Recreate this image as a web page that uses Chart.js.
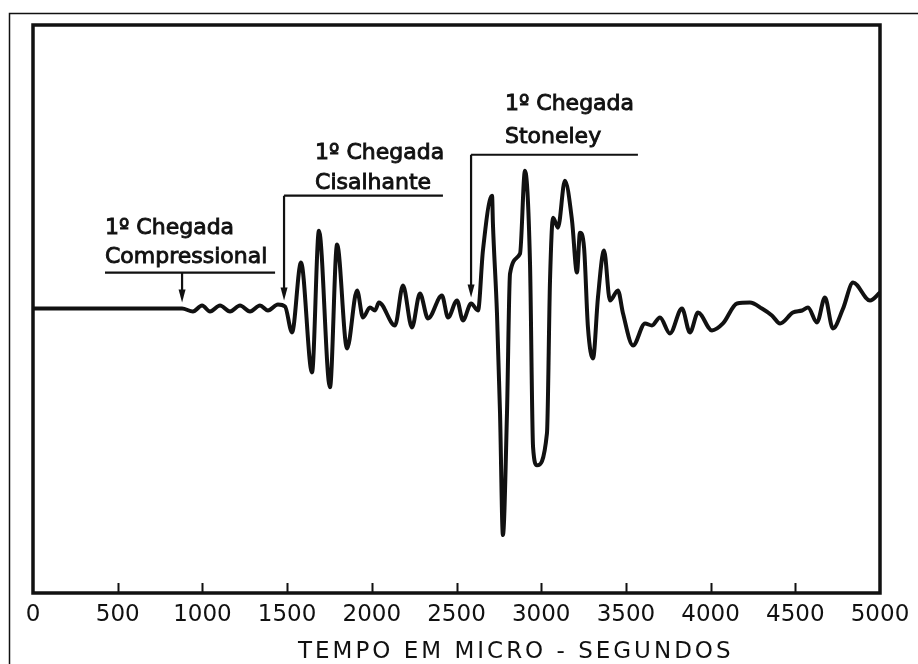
<!DOCTYPE html>
<html>
<head>
<meta charset="utf-8">
<title>Chegadas - tempo em micro-segundos</title>
<script src="https://cdn.jsdelivr.net/npm/chart.js@4.4.1/dist/chart.umd.min.js"></script>
<style>
  html, body { margin: 0; padding: 0; background: #fff; }
</style>
</head>
<body>
<canvas id="waveChart" width="918" height="664"></canvas>
<script>
// Values: time in micro-seconds, amplitude in arbitrary units
const tempos = [
  0, 880, 944, 998, 1045, 1104, 1163, 1222, 1281, 1340, 1387, 1446, 1488,
  1529, 1582, 1647, 1688, 1753, 1795, 1854, 1913, 1948, 1989, 2019, 2042,
  2137, 2184, 2237, 2284, 2332, 2414, 2450, 2503, 2538, 2586, 2627,
  2656, 2710, 2715, 2739, 2757, 2774, 2798, 2816, 2875, 2904, 2934, 2952,
  2975, 3034, 3052, 3070, 3099, 3140, 3182, 3211, 3229, 3253, 3276, 3306,
  3335, 3371, 3406, 3453, 3483, 3542, 3613, 3654, 3701, 3760, 3831, 3878,
  3926, 4008, 4073, 4156, 4232, 4303, 4362, 4410, 4486, 4540, 4575, 4628,
  4675, 4722, 4782, 4841, 4941, 5000
];
const amplitudes = [
  0, 0, -3, 3, -3, 3, -3, 3, -3, 3, -2, 4, 2,
  -24, 46, -64, 78, -79, 64, -40, 18, -9, 1, -2, 6,
  -17, 23, -19, 15, -10, 13, -9, 8, -12, 5, -2,
  58, 113, 85, -5, -105, -227, -105, 35, 55, 138, 45, -139,
  -157, -125, 28, 91, 81, 128, 88, 36, 76, 61, -19, -50,
  11, 58, 8, 18, -5, -37, -15, -17, -9, -25, 0, -24,
  -4, -22, -15, 5, 6, 0, -7, -15, -4, -2, 1, -14,
  11, -20, 0, 26, 8, 16
];
const xTicks = [0, 500, 1000, 1500, 2000, 2500, 3000, 3500, 4000, 4500, 5000];

// arrivals marked on the trace
const tempoChegadas = [880, 1482, 2586];
const rotulosChegadas = [
  ["1º Chegada", "Compressional"],
  ["1º Chegada", "Cisalhante"],
  ["1º Chegada", "Stoneley"]
];
const tituloEixo = "TEMPO EM MICRO - SEGUNDOS";

// where each label sits, in data units (time / amplitude)
const layoutChegadas = [
  { textoX: 425, linhas: [75, 46], nivel: 36, fimLinha: 1429, ponta: 6, sublinhado: true },
  { textoX: 1665, linhas: [150, 120], nivel: 113, fimLinha: 2420, ponta: 8 },
  { textoX: 2786, linhas: [199, 166], nivel: 154, fimLinha: 3571, ponta: 11 }
];

const INK = "#111";

const molduraPlugin = {
  id: "moldura",
  beforeDraw(chart) {
    const ctx = chart.ctx;
    ctx.save();
    ctx.fillStyle = "#fff";
    ctx.fillRect(0, 0, chart.width, chart.height);
    // thin outer frame of the scanned page
    ctx.strokeStyle = INK;
    ctx.lineWidth = 1.5;
    ctx.beginPath();
    ctx.moveTo(9.5, chart.height + 2);
    ctx.lineTo(9.5, 13.5);
    ctx.lineTo(chart.width + 2, 13.5);
    ctx.stroke();
    ctx.restore();
  },
  afterDatasetsDraw(chart) {
    const ctx = chart.ctx;
    const area = chart.chartArea;
    const xs = chart.scales.x;
    const ys = chart.scales.y;
    ctx.save();

    // heavy plot box
    ctx.strokeStyle = INK;
    ctx.lineWidth = 3.5;
    ctx.strokeRect(area.left, area.top, area.right - area.left, area.bottom - area.top);

    // inward tick marks
    ctx.lineWidth = 2;
    ctx.beginPath();
    xs.ticks.forEach(t => {
      if (t.value <= xs.min || t.value >= xs.max) return;
      const px = Math.round(xs.getPixelForValue(t.value)) + 0.5;
      ctx.moveTo(px, area.bottom);
      ctx.lineTo(px, area.bottom - 10);
    });
    ctx.stroke();

    // axis title, set right of centre like the original
    ctx.fillStyle = INK;
    ctx.font = '23px "DejaVu Sans"';
    ctx.textAlign = "center";
    ctx.textBaseline = "alphabetic";
    ctx.letterSpacing = "3px";
    ctx.fillText(tituloEixo, xs.getPixelForValue(2850), 658);
    ctx.letterSpacing = "0px";

    // arrival annotations (a hairline stroke thickens the letters like the scan)
    ctx.font = '22px "DejaVu Sans"';
    ctx.textAlign = "left";
    tempoChegadas.forEach((t, i) => {
      const lay = layoutChegadas[i];
      const ax = xs.getPixelForValue(t);
      const lineY = ys.getPixelForValue(lay.nivel);
      const tipY = ys.getPixelForValue(lay.ponta);
      const tx = xs.getPixelForValue(lay.textoX);
      ctx.lineWidth = 0.9;
      rotulosChegadas[i].forEach((txt, k) => {
        const ty = ys.getPixelForValue(lay.linhas[k]);
        ctx.fillText(txt, tx, ty);
        ctx.strokeText(txt, tx, ty);
      });
      ctx.lineWidth = 2.2;
      ctx.beginPath();
      if (lay.sublinhado) {
        ctx.moveTo(tx, lineY);
        ctx.lineTo(xs.getPixelForValue(lay.fimLinha), lineY);
      } else {
        ctx.moveTo(xs.getPixelForValue(lay.fimLinha), lineY);
        ctx.lineTo(ax, lineY);
      }
      ctx.moveTo(ax, lineY);
      ctx.lineTo(ax, tipY - 8);
      ctx.stroke();
      ctx.beginPath();
      ctx.moveTo(ax, tipY);
      ctx.lineTo(ax - 3.5, tipY - 13);
      ctx.lineTo(ax + 3.5, tipY - 13);
      ctx.closePath();
      ctx.fill();
    });
    ctx.restore();
  }
};

const pontos = tempos.map((t, i) => ({ x: t, y: amplitudes[i] }));

new Chart(document.getElementById("waveChart"), {
  type: "line",
  data: {
    datasets: [{
      data: pontos,
      borderColor: INK,
      borderWidth: 4,
      pointRadius: 0,
      cubicInterpolationMode: "monotone",
      borderCapStyle: "round",
      borderJoinStyle: "round",
      fill: false
    }]
  },
  options: {
    responsive: false,
    animation: false,
    devicePixelRatio: 1,
    layout: { padding: { left: 33, right: 38, top: 25, bottom: 0 } },
    plugins: { legend: { display: false }, tooltip: { enabled: false } },
    scales: {
      x: {
        type: "linear",
        min: 0,
        max: 5000,
        afterBuildTicks: scale => { scale.ticks = xTicks.map(v => ({ value: v })); },
        afterFit: scale => { scale.height = 71; },
        grid: { display: false, drawTicks: false },
        border: { display: false },
        ticks: {
          padding: 8,
          maxRotation: 0,
          autoSkip: false,
          color: INK,
          font: { family: "DejaVu Sans", size: 23 },
          callback: v => String(v)
        }
      },
      y: {
        display: false,
        min: -285,
        max: 284
      }
    }
  },
  plugins: [molduraPlugin]
});
</script>
</body>
</html>
